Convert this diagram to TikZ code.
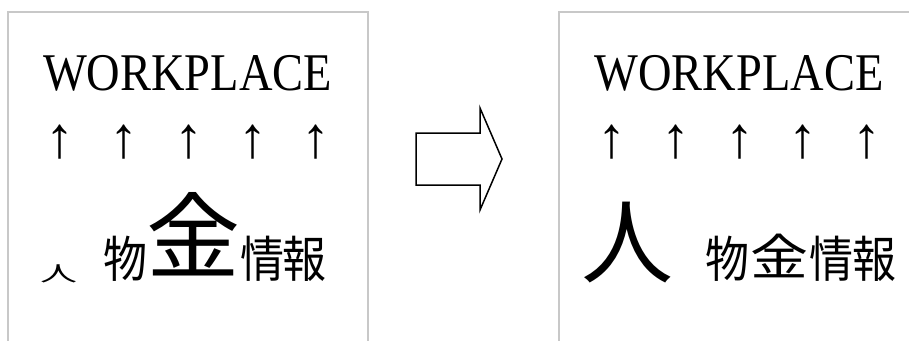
\documentclass[tikz,border=0pt]{standalone}
\usepackage{fontspec}
\setmainfont{Liberation Serif}
\newfontfamily\cjk{Noto Sans CJK JP}
\definecolor{boxgray}{RGB}{200,200,200}
\begin{document}
\begin{tikzpicture}[x=1pt,y=-1pt,
  panel/.style={draw=boxgray,line width=1.5pt},
  title/.style={inner sep=0pt,anchor=base,font=\fontsize{53}{53}\selectfont,xscale=0.876},
  uparrow/.style={inner sep=0pt,anchor=base,font=\fontsize{58}{58}\selectfont},
  kanji/.style={inner sep=0pt,anchor=base,font=\cjk\fontsize{#1}{#1}\selectfont},
  bigarrow/.style={draw=black,line width=1.5pt,line join=miter}]
\useasboundingbox (0,0) rectangle (909,340);
% panels
\draw[panel] (8,345) -- (8,12) -- (368,12) -- (368,345);
\draw[panel] (559,345) -- (559,12) -- (915,12);
% transition arrow
\draw[bigarrow] (416,133) -- (480,133) -- (480,108) -- (502,159) -- (480,210) -- (480,185) -- (416,185) -- cycle;
% left panel
\node[title] (lt) at (187.5,90) {WORKPLACE};
\foreach \i/\x in {1/60,2/124,3/189,4/253,5/316}
  \node[uparrow] (la\i) at (\x,157) {↑};
\node[kanji=37,yscale=0.56] (lhito) at (58.5,281) {人};
\node[kanji=44,yscale=1.12] (lmono) at (125,277) {物};
\node[kanji=94] (lkane) at (193,271) {金};
\node[kanji=44,yscale=1.12] (ljou) at (262.5,277) {情};
\node[kanji=44,yscale=1.12] (lhou) at (304,277) {報};
% right panel
\node[title] (rt) at (739,90) {WORKPLACE};
\foreach \i/\x in {1/612,2/676,3/740,4/803,5/867}
  \node[uparrow] (ra\i) at (\x,157) {↑};
\node[kanji=92] (rhito) at (627.5,276) {人};
\node[kanji=44,yscale=1.12] (rmono) at (727,277) {物};
\node[kanji=58,yscale=0.85] (rkane) at (779,275) {金};
\node[kanji=44,yscale=1.12] (rjou) at (831,277) {情};
\node[kanji=44,yscale=1.12] (rhou) at (874,277) {報};
\end{tikzpicture}
\end{document}
